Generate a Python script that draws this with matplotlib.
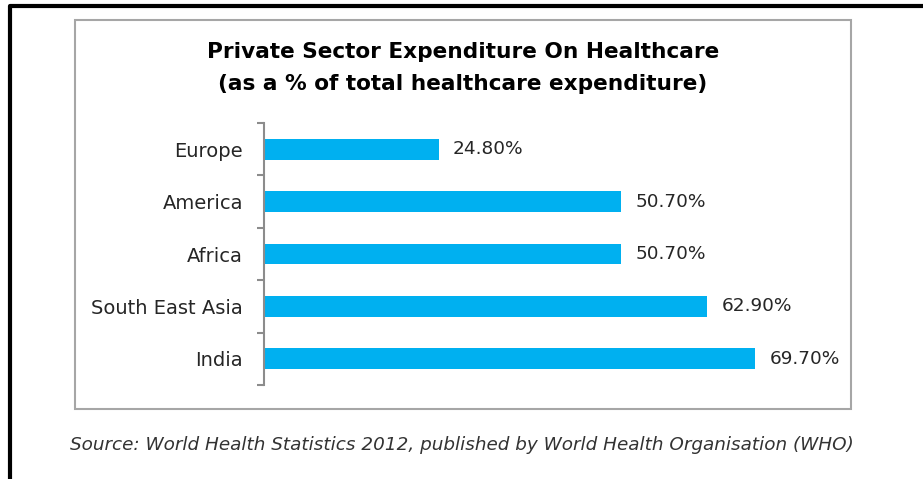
import matplotlib
matplotlib.use("Agg")
import matplotlib.pyplot as plt
from matplotlib.patches import Rectangle
from matplotlib.lines import Line2D

regions = ["Europe", "America", "Africa", "South East Asia", "India"]
private_share = [24.8, 50.7, 50.7, 62.9, 69.7]
value_labels = ["24.80%", "50.70%", "50.70%", "62.90%", "69.70%"]

title_text = "Private Sector Expenditure On Healthcare\n(as a % of total healthcare expenditure)"
source_text = "Source: World Health Statistics 2012, published by World Health Organisation (WHO)"

W, H = 923, 479
fig = plt.figure(figsize=(W / 100, H / 100), dpi=100)
fig.patch.set_facecolor("white")

def fx(px):
    return px / W

def fy(py):
    return 1 - py / H

# outer page frame (left and top edges)
fig.add_artist(Line2D([fx(10), fx(10), fx(W)], [fy(H), fy(6), fy(6)],
                      color="black", lw=3, transform=fig.transFigure))
# chart panel box
fig.add_artist(Rectangle((fx(75), fy(409)), fx(851) - fx(75), fy(20) - fy(409),
                         transform=fig.transFigure, fill=False,
                         edgecolor="#a6a6a6", lw=1.5))

ax = fig.add_axes([fx(264), fy(385), fx(828) - fx(264), fy(123) - fy(385)])
ypos = list(range(len(regions)))
ax.barh(ypos, private_share, height=0.4, color="#00B0F0")
ax.set_xlim(0, 80)
ax.set_ylim(len(regions) - 0.5, -0.5)

for y, v, lab in zip(ypos, private_share, value_labels):
    ax.annotate(lab, xy=(v, y), xytext=(10, 0), textcoords="offset points",
                ha="left", va="center", fontsize=13.3, color="#262626")

ax.set_yticks(ypos)
ax.set_yticklabels(regions, fontsize=14, color="#262626")
ax.set_yticks([i - 0.5 for i in range(len(regions) + 1)], minor=True)
ax.tick_params(axis="y", which="major", length=0, pad=15)
ax.tick_params(axis="y", which="minor", length=5, width=1.5, color="#8c8c8c")
ax.set_xticks([])
for side in ["top", "right", "bottom"]:
    ax.spines[side].set_visible(False)
ax.spines["left"].set_color("#8c8c8c")
ax.spines["left"].set_linewidth(1.5)

fig.text(fx(463), fy(68), title_text, ha="center", va="center",
         fontsize=15.6, fontweight="bold", color="black", linespacing=1.7)
fig.text(fx(462), fy(445), source_text, ha="center", va="center",
         fontsize=13.2, style="italic", color="#333333")

fig.savefig("out.png", dpi=100)
